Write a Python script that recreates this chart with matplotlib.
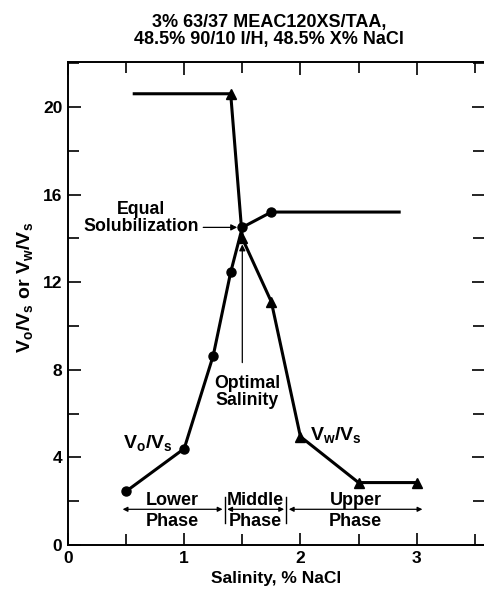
import matplotlib
matplotlib.use('Agg')
import matplotlib.pyplot as plt
from matplotlib.ticker import MultipleLocator

plt.rcParams['font.family'] = ['Liberation Sans', 'DejaVu Sans']
plt.rcParams['font.weight'] = 'bold'
plt.rcParams['axes.labelweight'] = 'bold'
plt.rcParams['mathtext.fontset'] = 'custom'
plt.rcParams['mathtext.rm'] = 'Liberation Sans:bold'

# Vo/Vs curve (circles); last point is the plateau without marker
vo_salinity = [0.5, 1.0, 1.25, 1.4, 1.5, 1.75, 2.85]
vo_ratio = [2.45, 4.4, 8.65, 12.45, 14.5, 15.2, 15.2]

# Vw/Vs curve (triangles); first point is the plateau without marker
vw_salinity = [0.57, 1.4, 1.5, 1.75, 2.0, 2.5, 3.0]
vw_ratio = [20.6, 20.6, 14.0, 11.1, 4.95, 2.85, 2.85]

optimal_salinity = 1.5
equal_ratio = 14.5

phase_names = ['Lower\nPhase', 'Middle\nPhase', 'Upper\nPhase']
phase_ranges = [(0.47, 1.33), (1.37, 1.86), (1.90, 3.05)]
phase_breaks = [1.35, 1.88]

fig = plt.figure(figsize=(4.84, 5.91), dpi=100)
ax = fig.add_axes([68 / 484, 46 / 591, 416 / 484, 483 / 591])

ax.plot(vo_salinity, vo_ratio, color='black', lw=2.2, marker='o', ms=6.5,
        markevery=list(range(len(vo_salinity) - 1)))
ax.plot(vw_salinity, vw_ratio, color='black', lw=2.2, marker='^', ms=7.5,
        markevery=list(range(1, len(vw_salinity))))

ax.set_xlim(0, 3.58)
ax.set_ylim(0, 22.05)
ax.xaxis.set_major_locator(MultipleLocator(1))
ax.xaxis.set_minor_locator(MultipleLocator(0.5))
ax.yaxis.set_major_locator(MultipleLocator(4))
ax.yaxis.set_minor_locator(MultipleLocator(2))
ax.tick_params(which='both', direction='in', top=True, right=True,
               width=1.2, labelsize=12.5, pad=4)
ax.tick_params(which='major', length=9)
ax.tick_params(which='minor', length=8)
for side in ['left', 'bottom', 'top']:
    ax.spines[side].set_linewidth(1.4)
ax.spines['right'].set_visible(False)

ax.set_xlabel('Salinity, % NaCl', fontsize=12.5, labelpad=4)
ax.set_ylabel(r'V$_\mathrm{o}$/V$_\mathrm{s}$ or V$_\mathrm{w}$/V$_\mathrm{s}$',
              fontsize=14)
ax.yaxis.set_label_coords(-0.078, 0.534)

fig.text(269 / 484, 1 - 31 / 591,
         '3% 63/37 MEAC120XS/TAA,\n48.5% 90/10 I/H, 48.5% X% NaCl',
         ha='center', va='center', fontsize=13, linespacing=1.05)

# curve labels
ax.text(0.69, 4.6, r'V$_\mathrm{o}$/V$_\mathrm{s}$', ha='center', va='center', fontsize=14)
ax.text(2.31, 5.0, r'V$_\mathrm{w}$/V$_\mathrm{s}$', ha='center', va='center', fontsize=14)

# equal solubilization marker
ax.text(0.63, 14.95, 'Equal\nSolubilization', ha='center', va='center',
        fontsize=12.75, linespacing=1.0)
ax.annotate('', xy=(optimal_salinity - 0.02, equal_ratio), xytext=(1.14, equal_ratio),
            arrowprops=dict(arrowstyle='-|>', lw=0.9, color='black', mutation_scale=9))

# optimal salinity marker
ax.text(optimal_salinity + 0.04, 7.0, 'Optimal\nSalinity', ha='center', va='center',
        fontsize=12.75, linespacing=1.0)
ax.annotate('', xy=(optimal_salinity, 13.85), xytext=(optimal_salinity, 8.2),
            arrowprops=dict(arrowstyle='-|>', lw=0.9, color='black', mutation_scale=9))

# phase regions
for name, (x0, x1) in zip(phase_names, phase_ranges):
    ax.annotate('', xy=(x1, 1.63), xytext=(x0, 1.63),
                arrowprops=dict(arrowstyle='<|-|>', lw=0.9, color='black',
                                mutation_scale=7, shrinkA=0, shrinkB=0))
    ax.text((x0 + x1) / 2, 1.55, name, ha='center', va='center', fontsize=13,
            linespacing=1.25)
for xb in phase_breaks:
    ax.plot([xb, xb], [1.0, 2.2], color='black', lw=1.0)

fig.savefig('out.png', dpi=100)
